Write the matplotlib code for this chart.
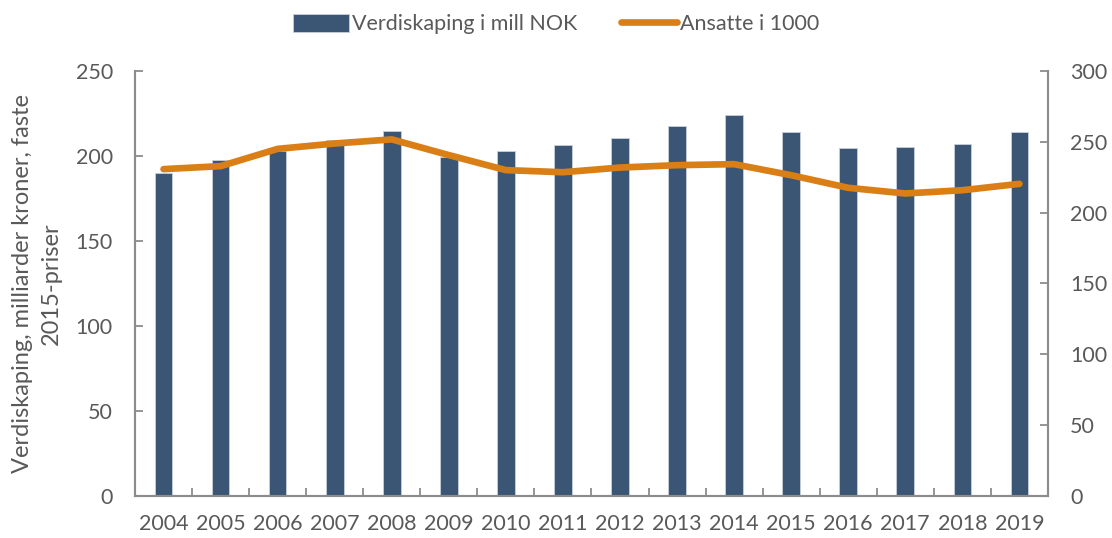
import matplotlib
matplotlib.use("Agg")
import matplotlib.pyplot as plt
import numpy as np
from matplotlib.ticker import FixedLocator, NullFormatter

years = ["2004", "2005", "2006", "2007", "2008", "2009", "2010", "2011",
         "2012", "2013", "2014", "2015", "2016", "2017", "2018", "2019"]
verdiskaping = [190.2, 197.6, 203.1, 209.4, 214.9, 199.2, 202.9, 206.3,
                210.6, 217.5, 224.1, 213.9, 204.5, 205.1, 206.9, 213.9]
ansatte = [230.7, 232.8, 245.0, 248.8, 251.7, 240.6, 230.0, 228.5,
           231.8, 233.5, 234.2, 226.4, 217.5, 213.5, 215.8, 220.3]

bar_color = "#3A5674"
line_color = "#D97F16"
text_color = "#595959"
spine_color = "#8C8C8C"

plt.rcParams['font.family'] = ['Lato', 'DejaVu Sans']

fig = plt.figure(figsize=(11.12, 5.38), dpi=100)
ax = fig.add_axes([0.1214, 0.0786, 0.8210, 0.7894])
ax2 = ax.twinx()

x = np.arange(len(years))
bars = ax.bar(x, verdiskaping, width=0.31, color=bar_color, edgecolor="#C8D0DA",
              linewidth=0.6, label="Verdiskaping i mill NOK", zorder=2)
line, = ax2.plot(x, ansatte, color=line_color, linewidth=4.8, solid_capstyle="round",
                 solid_joinstyle="round", label="Ansatte i 1000", zorder=3)

ax.set_xlim(-0.5, len(years) - 0.5)
ax.set_ylim(0, 250)
ax2.set_ylim(0, 300)
ax.set_yticks(np.arange(0, 251, 50))
ax2.set_yticks(np.arange(0, 301, 50))

ax.set_xticks(x)
ax.set_xticklabels(years)
ax.xaxis.set_minor_locator(FixedLocator(np.arange(0.5, len(years) - 1, 1.0)))
ax.xaxis.set_minor_formatter(NullFormatter())
ax.tick_params(axis="x", which="major", length=0, pad=13, labelsize=15.5, labelcolor=text_color)
ax.tick_params(axis="x", which="minor", direction="in", length=5.5, width=1.3, color=spine_color)
ax.tick_params(axis="y", direction="in", length=5.5, width=1.3, color=spine_color,
               pad=16, labelsize=15.5, labelcolor=text_color)
ax2.tick_params(axis="y", direction="in", length=5.5, width=1.3, color=spine_color,
                pad=16, labelsize=15.5, labelcolor=text_color)

for a in (ax, ax2):
    a.spines["top"].set_visible(False)
    for s in ("left", "right", "bottom"):
        a.spines[s].set_color(spine_color)
        a.spines[s].set_linewidth(1.5)

ax.set_ylabel("Verdiskaping, milliarder kroner, faste\n2015-priser", fontsize=17,
              color=text_color, labelpad=10, linespacing=1.45)

fig.legend(handles=[bars, line], labels=["Verdiskaping i mill NOK", "Ansatte i 1000"],
           loc="upper center", bbox_to_anchor=(0.5, 1.01), ncol=2, frameon=False,
           fontsize=15.5, labelcolor=text_color, handlelength=2.6, handletextpad=0.15,
           columnspacing=2.0, handleheight=0.9)

fig.savefig("out.png", dpi=100)
